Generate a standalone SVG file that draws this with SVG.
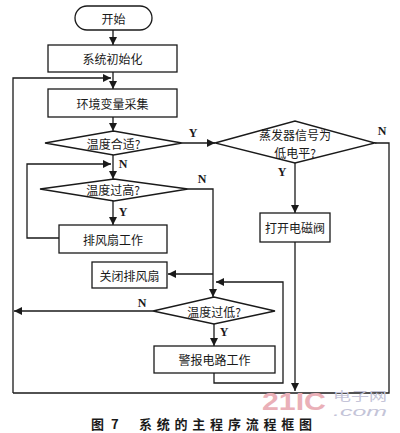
<svg xmlns="http://www.w3.org/2000/svg" width="400" height="433" viewBox="0 0 400 433">
<style>
.s{fill:#fff;stroke:#1a1a1a;stroke-width:1.3}
.c{fill:none;stroke:#1a1a1a;stroke-width:1.3}
.t{font-family:"Noto Sans CJK SC",sans-serif;font-size:12px;fill:#1a1a1a;text-anchor:middle;dominant-baseline:central}
.l{font-family:"Liberation Serif",serif;font-size:12px;font-weight:bold;fill:#1a1a1a;text-anchor:middle;dominant-baseline:central}
.cap{font-family:"Noto Sans CJK SC",sans-serif;font-size:13px;font-weight:bold;fill:#1a1a1a}
</style>
<defs>
<marker id="a" viewBox="0 0 10 10" refX="10" refY="5" markerWidth="8" markerHeight="8" markerUnits="userSpaceOnUse" orient="auto">
<path d="M0,0 L10,5 L0,10 Z" fill="#1a1a1a"/>
</marker>
</defs>
<rect width="400" height="433" fill="#fff"/>
<g id="connectors">
<path class="c" d="M113,30 V45" marker-end="url(#a)"/>
<path class="c" d="M113,72 V89" marker-end="url(#a)"/>
<path class="c" d="M13,393 V78 H111" marker-end="url(#a)"/>
<path class="c" d="M113,117 V131" marker-end="url(#a)"/>
<path class="c" d="M182,143 H215" marker-end="url(#a)"/>
<path class="c" d="M375,143 H389 V393 H13"/>
<path class="c" d="M295,163 V213" marker-end="url(#a)"/>
<path class="c" d="M295,242 V391" marker-end="url(#a)"/>
<path class="c" d="M113,155 V179" marker-end="url(#a)"/>
<path class="c" d="M59,238 H27 V164 H111" marker-end="url(#a)"/>
<path class="c" d="M113,201 V225" marker-end="url(#a)"/>
<path class="c" d="M188,189 H213 V297" marker-end="url(#a)"/>
<path class="c" d="M213,274 H168" marker-end="url(#a)"/>
<path class="c" d="M153,311 H14" marker-end="url(#a)"/>
<path class="c" d="M214,324 V346" marker-end="url(#a)"/>
<path class="c" d="M214,373 V383 H283 V282 H216" marker-end="url(#a)"/>
<text class="l" x="193" y="133">Y</text>
<text class="l" x="382" y="131">N</text>
<text class="l" x="282" y="172">Y</text>
<text class="l" x="123" y="164">N</text>
<text class="l" x="202" y="179">N</text>
<text class="l" x="123" y="212">Y</text>
<text class="l" x="142" y="303">N</text>
<text class="l" x="224" y="332">Y</text>
</g>
<g id="start"><rect class="s" x="75" y="6" width="77" height="24" rx="12"/><text class="t" x="113.5" y="18">开始</text></g>
<g id="init"><rect class="s" x="48" y="45" width="129" height="27"/><text class="t" x="112.5" y="58.5">系统初始化</text></g>
<g id="collect"><rect class="s" x="48" y="89" width="129" height="28"/><text class="t" x="112.5" y="103">环境变量采集</text></g>
<g id="tempOk"><polygon class="s" points="45,143 113.5,131 182,143 113.5,155"/><text class="t" x="113.5" y="143">温度合适?</text></g>
<g id="evap"><polygon class="s" points="215,143 295,121 375,143 295,163"/><text class="t" x="295" y="134">蒸发器信号为</text><text class="t" x="295" y="152">低电平?</text></g>
<g id="valve"><rect class="s" x="260" y="213" width="70" height="29"/><text class="t" x="295" y="227.5">打开电磁阀</text></g>
<g id="tempHigh"><polygon class="s" points="40,189 114,179 188,189 114,201"/><text class="t" x="113" y="189">温度过高?</text></g>
<g id="fan"><rect class="s" x="59" y="225" width="108" height="28"/><text class="t" x="113" y="239">排风扇工作</text></g>
<g id="fanOff"><rect class="s" x="92" y="262" width="75" height="26"/><text class="t" x="129.5" y="275">关闭排风扇</text></g>
<g id="tempLow"><polygon class="s" points="153,311 214,297 275,311 214,324"/><text class="t" x="214" y="311">温度过低?</text></g>
<g id="alarm"><rect class="s" x="154" y="346" width="121" height="27"/><text class="t" x="214.5" y="359.5">警报电路工作</text></g>
<g id="watermark">
<text x="262" y="410" font-family="Liberation Sans,sans-serif" font-size="24" font-weight="bold" fill="#eab0b8" textLength="64" lengthAdjust="spacingAndGlyphs">21IC</text>
<text x="333" y="401" font-family="Noto Sans CJK SC,sans-serif" font-size="12" fill="#c4c4d8" textLength="54" lengthAdjust="spacingAndGlyphs">电子网</text>
<text x="333" y="416" font-family="Liberation Sans,sans-serif" font-size="13" font-style="italic" fill="#c4c4d8" textLength="54" lengthAdjust="spacingAndGlyphs">.com</text>
</g>
<text class="cap" x="91" y="429">图</text>
<text class="cap" x="111" y="429">7</text>
<text class="cap" x="139" y="429" textLength="173" lengthAdjust="spacing">系统的主程序流程框图</text>
</svg>
